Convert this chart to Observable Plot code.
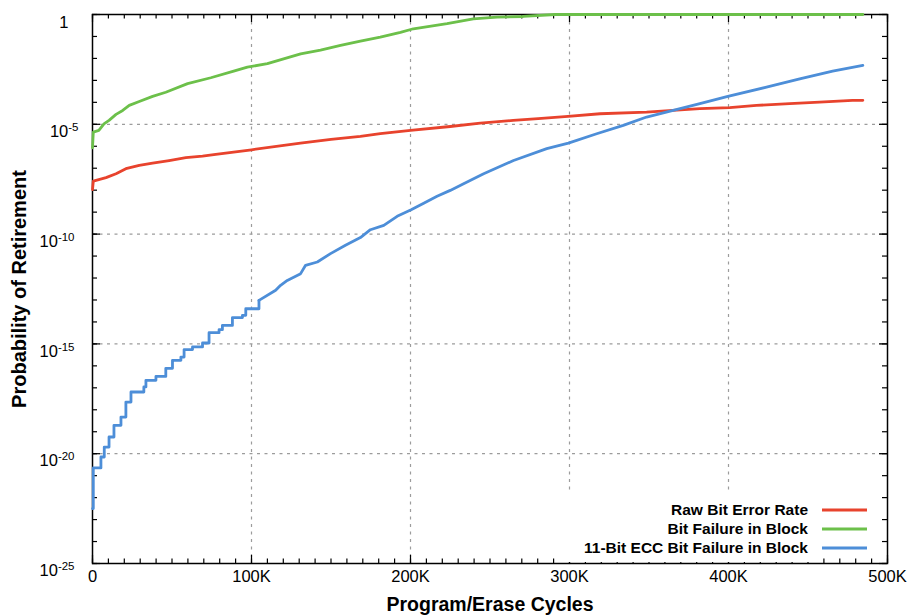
<!DOCTYPE html>
<html><head><meta charset="utf-8">
<script src="https://cdn.jsdelivr.net/npm/d3@7"></script>
<script src="https://cdn.jsdelivr.net/npm/@observablehq/plot@0.6"></script>
<style>
html,body{margin:0;padding:0;background:#fff;}
#chart svg{display:block;}
</style></head><body><div id="chart"></div>
<script>
// ---- data (cycles in thousands, probability as log10) ----
const seriesNames = ["Raw Bit Error Rate", "Bit Failure in Block", "11-Bit ECC Bit Failure in Block"];
const seriesColors = ["#e8432d", "#6cc04a", "#4d8ed8"];

const rawK   = [0, 0.5, 8.5, 14.8, 21, 29.4, 37.8, 48.2, 58.7, 69.2, 77.5, 100, 130.8, 150, 168.5, 181, 200, 225, 243.9, 264.6, 280.3, 299.1, 319.2, 348.5, 365, 382, 400.8, 417.6, 438.5, 457.3, 478, 484.5];
const rawLog = [-7.97, -7.59, -7.43, -7.25, -7.02, -6.87, -6.77, -6.65, -6.52, -6.45, -6.37, -6.16, -5.86, -5.69, -5.55, -5.42, -5.28, -5.10, -4.95, -4.82, -4.74, -4.64, -4.52, -4.45, -4.37, -4.29, -4.24, -4.14, -4.06, -3.99, -3.91, -3.91];

const bitK   = [0, 0.5, 4, 7.2, 10.4, 14.8, 19, 23.1, 29.4, 37.8, 46.1, 59.8, 74.4, 88.8, 97.4, 110, 130.9, 143.4, 156, 168.5, 181, 193.7, 201.8, 223, 239.5, 254.4, 270.9, 291, 484.5];
const bitLog = [-6.07, -5.36, -5.28, -4.98, -4.82, -4.55, -4.37, -4.14, -3.96, -3.73, -3.54, -3.15, -2.88, -2.58, -2.40, -2.24, -1.79, -1.62, -1.41, -1.21, -1.03, -0.81, -0.65, -0.42, -0.20, -0.12, -0.09, 0, 0];

const eccK   = [0, 0.5, 5.3, 7.4, 10.4, 13.5, 17.9, 21, 24.2, 32.3, 33.6, 39.9, 46.1, 50.3, 55.6, 57.6, 62.9, 69.2, 73.3, 79.6, 81.7, 88, 94.3, 96.4, 104.7, 115.2, 118.3, 122.5, 130.9, 134, 141.4, 149.7, 159.1, 168.5, 174.8, 183.2, 191.6, 200.4, 208.3, 216.7, 225, 233.4, 246, 264.8, 285.7, 299.3, 317.1, 333.8, 348.5, 365.2, 382, 399.6, 423.9, 444.8, 465.5, 484.5];
const eccLog = [-22.5, -20.65, -20.15, -19.7, -19.24, -18.71, -18.33, -17.65, -17.19, -16.96, -16.66, -16.48, -16.11, -15.75, -15.6, -15.26, -15.14, -14.96, -14.49, -14.35, -14.16, -13.8, -13.7, -13.4, -13.02, -12.56, -12.33, -12.11, -11.8, -11.42, -11.27, -10.89, -10.51, -10.16, -9.8, -9.6, -9.19, -8.89, -8.59, -8.28, -8.01, -7.71, -7.25, -6.65, -6.11, -5.86, -5.43, -5.05, -4.67, -4.37, -4.06, -3.73, -3.31, -2.93, -2.58, -2.32];

const xTickValues = [0, 100000, 200000, 300000, 400000, 500000];
const xTickLabels = ["0", "100K", "200K", "300K", "400K", "500K"];
const xGridValues = [100000, 200000, 300000, 400000];
const yTickValues = [1e-25, 1e-20, 1e-15, 1e-10, 1e-5, 1];
const yTickLabels = ["10^-25", "10^-20", "10^-15", "10^-10", "10^-5", "1"];
const yGridValues = [1e-20, 1e-15, 1e-10, 1e-5];
const xMinorTicks = d3.range(0, 500001, 10000);
const yMinorTicks = d3.range(-25, 1).map(e => Math.pow(10, e));

// ---- build table ----
const rows = [];
[[rawK, rawLog], [bitK, bitLog], [eccK, eccLog]].forEach(([ks, ls], i) => {
  ks.forEach((k, j) => rows.push({series: seriesNames[i], cycles: k * 1000, p: Math.pow(10, ls[j])}));
});
// blue: early part drawn as coarse stair steps, rest drawn smooth
const stepSeries = seriesNames[2];
const stepCut = 105000;
const rowsStep = rows.filter(d => d.series === stepSeries && d.cycles <= stepCut);
const rowsSmooth = [];
seriesNames.forEach(s => {
  const r = rows.filter(d => d.series === s);
  if (s !== stepSeries) { rowsSmooth.push(...r); return; }
  const i0 = r.findIndex(d => d.cycles > stepCut);
  rowsSmooth.push(r[i0 - 1], ...r.slice(i0));
});

const W = 911, H = 615, mT = 14, mB = 52, mL = 92, mR = 24;
const PH = H - mT - mB, PW = W - mL - mR;
const font = "'Liberation Sans', Arial, Helvetica, sans-serif";
const tk = {stroke: "#000", strokeWidth: 1.2};

const chart = Plot.plot({
  width: W, height: H,
  marginTop: mT, marginBottom: mB, marginLeft: mL, marginRight: mR,
  style: {fontFamily: font, fontSize: "16.5px", color: "#000", background: "#fff", overflow: "visible"},
  x: {domain: [0, 500000], label: null},
  y: {type: "log", domain: [1e-25, 1], label: null},
  color: {domain: seriesNames, range: seriesColors},
  marks: [
    Plot.gridX({ticks: xGridValues, stroke: "#9c9c9c", strokeOpacity: 1, strokeWidth: 1.2, strokeDasharray: "3,4.5"}),
    Plot.gridY({ticks: yGridValues, stroke: "#9c9c9c", strokeOpacity: 1, strokeWidth: 1.2, strokeDasharray: "3,4.5"}),
    Plot.tickX(xMinorTicks, {x: d => d, insetTop: PH - 4.5, ...tk}),
    Plot.tickX(xMinorTicks, {x: d => d, insetBottom: PH - 4.5, ...tk}),
    Plot.tickX(xTickValues, {x: d => d, insetTop: PH - 8, ...tk}),
    Plot.tickX(xTickValues, {x: d => d, insetBottom: PH - 8, ...tk}),
    Plot.tickY(yMinorTicks, {y: d => d, insetRight: PW - 5, ...tk}),
    Plot.tickY(yMinorTicks, {y: d => d, insetLeft: PW - 5, ...tk}),
    Plot.tickY(yTickValues, {y: d => d, insetRight: PW - 8, ...tk}),
    Plot.tickY(yTickValues, {y: d => d, insetLeft: PW - 8, ...tk}),
    Plot.axisX({ticks: xTickValues, tickSize: 0, tickPadding: 7, fontSize: 16.5,
      tickFormat: d => xTickLabels[xTickValues.indexOf(d)], label: null}),
    Plot.axisY({ticks: yTickValues, tickSize: 0, tickPadding: 18, fontSize: 16.5,
      tickFormat: d => yTickLabels[yTickValues.findIndex(v => Math.abs(Math.log10(v) - Math.log10(d)) < 1e-6)], label: null}),
    Plot.frame({stroke: "#000", strokeWidth: 1.5}),
    Plot.line(rowsSmooth, {x: "cycles", y: "p", z: "series", stroke: "series", curve: "linear", strokeWidth: 2.8}),
    Plot.line(rowsStep, {x: "cycles", y: "p", z: "series", stroke: "series", curve: "step-after", strokeWidth: 2.8}),
    Plot.text(["Program/Erase Cycles"], {frameAnchor: "bottom", dy: 41, lineAnchor: "middle", textAnchor: "middle", fontWeight: "bold", fontSize: 19.5}),
    Plot.text(["Probability of Retirement"], {frameAnchor: "left", dx: -73, rotate: -90, textAnchor: "middle", lineAnchor: "middle", fontWeight: "bold", fontSize: 20})
  ]
});

document.getElementById("chart").appendChild(chart);

// superscript exponents in y tick labels
const svg = d3.select(chart);
svg.selectAll('g[aria-label="y-axis tick label"] text').each(function() {
  const t = this.textContent;
  const sel = d3.select(this);
  if (t === "1") { sel.attr("dx", -6); sel.attr("dy", "0.5em"); return; }
  if (t.includes("^")) {
    const [base, exp] = t.split("^");
    sel.text(null);
    sel.attr("dy", "0.45em");
    sel.append("tspan").text(base);
    sel.append("tspan").attr("font-size", "11.5px").attr("dy", -6).text(exp);
    if (exp.length === 2) sel.attr("dx", 4);
  }
});

// legend box inside plot (bottom right)
const lg = svg.append("g").attr("font-family", font);
lg.append("rect").attr("x", 560).attr("y", 490).attr("width", 256).attr("height", 72).attr("fill", "#fff");
seriesNames.forEach((name, i) => {
  const cy = 510 + i * 19;
  lg.append("text").attr("x", 808).attr("y", cy).attr("dy", "0.35em")
    .attr("text-anchor", "end").attr("font-weight", "bold").attr("font-size", "15.5px").attr("fill", "#000").text(name);
  lg.append("line").attr("x1", 822).attr("x2", 867).attr("y1", cy).attr("y2", cy)
    .attr("stroke", seriesColors[i]).attr("stroke-width", 3);
});
</script></body></html>
